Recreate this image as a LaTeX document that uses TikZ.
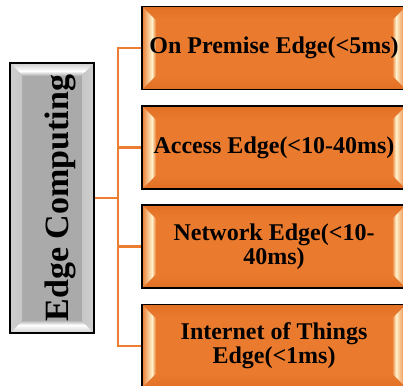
\documentclass[tikz,border=0pt]{standalone}
\usepackage{fontspec}
\usepackage{graphicx}
\setmainfont{Liberation Serif}
\usetikzlibrary{backgrounds}

\definecolor{boxorange}{HTML}{EA7B2E}
\definecolor{linkorange}{HTML}{ED7D31}
\definecolor{cream}{HTML}{FFF1CC}
\definecolor{orangedeep}{HTML}{E27024}
\definecolor{grayface}{HTML}{ABAAAA}
\definecolor{grayside}{HTML}{CFCECE}

\tikzset{
  % orange card with light bevels on the left and right edges
  orangebox/.style={
    draw=black, line width=1.6pt, fill=boxorange,
    minimum width=264pt, minimum height=83pt, inner sep=0pt,
    align=center, font=\bfseries\fontsize{24}{24}\selectfont,
    path picture={
      \coordinate (nw) at (path picture bounding box.north west);
      \coordinate (ne) at (path picture bounding box.north east);
      \coordinate (sw) at (path picture bounding box.south west);
      \coordinate (se) at (path picture bounding box.south east);
      % top and bottom bevels
      \shade[top color=orangedeep, bottom color=boxorange]
        (nw) -- (ne) -- ([shift={(-14pt,-14pt)}]ne) -- ([shift={(14pt,-14pt)}]nw) -- cycle;
      \shade[top color=boxorange, bottom color=orangedeep]
        (sw) -- (se) -- ([shift={(-14pt,14pt)}]se) -- ([shift={(14pt,14pt)}]sw) -- cycle;
      % left bevel
      \shade[left color=boxorange, right color=cream]
        (nw) -- ([shift={(10pt,-10pt)}]nw) -- ([shift={(10pt,10pt)}]sw) -- (sw) -- cycle;
      \shade[left color=cream, right color=boxorange]
        ([shift={(10pt,-10pt)}]nw) -- ([shift={(14pt,-14pt)}]nw)
        -- ([shift={(14pt,14pt)}]sw) -- ([shift={(10pt,10pt)}]sw) -- cycle;
      % right bevel
      \shade[left color=cream, right color=boxorange]
        (ne) -- ([shift={(-10pt,-10pt)}]ne) -- ([shift={(-10pt,10pt)}]se) -- (se) -- cycle;
      \shade[left color=boxorange, right color=cream]
        ([shift={(-14pt,-14pt)}]ne) -- ([shift={(-10pt,-10pt)}]ne)
        -- ([shift={(-10pt,10pt)}]se) -- ([shift={(-14pt,14pt)}]se) -- cycle;
    }
  },
  % upright grey card with light bevels on the top and bottom edges
  graybox/.style={
    draw=black, line width=1.6pt, fill=grayface,
    minimum width=84pt, minimum height=270pt, inner sep=0pt,
    font=\bfseries\fontsize{34}{34}\selectfont,
    path picture={
      \coordinate (nw) at (path picture bounding box.north west);
      \coordinate (ne) at (path picture bounding box.north east);
      \coordinate (sw) at (path picture bounding box.south west);
      \coordinate (se) at (path picture bounding box.south east);
      % side bevels
      \shade[left color=grayside, right color=grayside!80!grayface]
        (nw) -- ([shift={(12pt,-12pt)}]nw) -- ([shift={(12pt,12pt)}]sw) -- (sw) -- cycle;
      \shade[left color=grayside!80!grayface, right color=grayside]
        (ne) -- ([shift={(-12pt,-12pt)}]ne) -- ([shift={(-12pt,12pt)}]se) -- (se) -- cycle;
      % top bevel
      \shade[top color=grayside, bottom color=white]
        (nw) -- (ne) -- ([shift={(-8pt,-8pt)}]ne) -- ([shift={(8pt,-8pt)}]nw) -- cycle;
      \shade[top color=white, bottom color=grayface]
        ([shift={(8pt,-8pt)}]nw) -- ([shift={(-8pt,-8pt)}]ne)
        -- ([shift={(-13pt,-13pt)}]ne) -- ([shift={(13pt,-13pt)}]nw) -- cycle;
      % bottom bevel
      \shade[top color=white, bottom color=grayside]
        (sw) -- (se) -- ([shift={(-8pt,8pt)}]se) -- ([shift={(8pt,8pt)}]sw) -- cycle;
      \shade[top color=grayface, bottom color=white]
        ([shift={(8pt,8pt)}]sw) -- ([shift={(-8pt,8pt)}]se)
        -- ([shift={(-13pt,13pt)}]se) -- ([shift={(13pt,13pt)}]sw) -- cycle;
    }
  },
  conn/.style={draw=linkorange, line width=2.2pt}
}

\begin{document}
\begin{tikzpicture}[x=1pt, y=-1pt]
  \useasboundingbox (0,0) rectangle (403,385);
  \clip (0,0) rectangle (403,385);

  \node[graybox] (ec) at (52,198)
    {\rotatebox{90}{\raisebox{-8pt}[\height][\depth]{Edge Computing}}};

  \node[orangebox] (b1) at (274,48)    {On Premise Edge(<5ms)};
  \node[orangebox] (b2) at (274,147.5) {Access Edge(<10-40ms)};
  \node[orangebox] (b3) at (274,246.5) {Network Edge(<10-\\40ms)};
  \node[orangebox] (b4) at (274,346)   {Internet of Things\\Edge(<1ms)};

  \coordinate (j) at (118,198);

  \begin{scope}[on background layer]
    \draw[conn] (b1.west) -- (j |- b1.west) -- (j |- b4.west) -- (b4.west);
    \draw[conn] (j |- b2.west) -- (b2.west);
    \draw[conn] (j |- b3.west) -- (b3.west);
    \draw[conn] (ec.east) -- (j);
  \end{scope}
\end{tikzpicture}
\end{document}
